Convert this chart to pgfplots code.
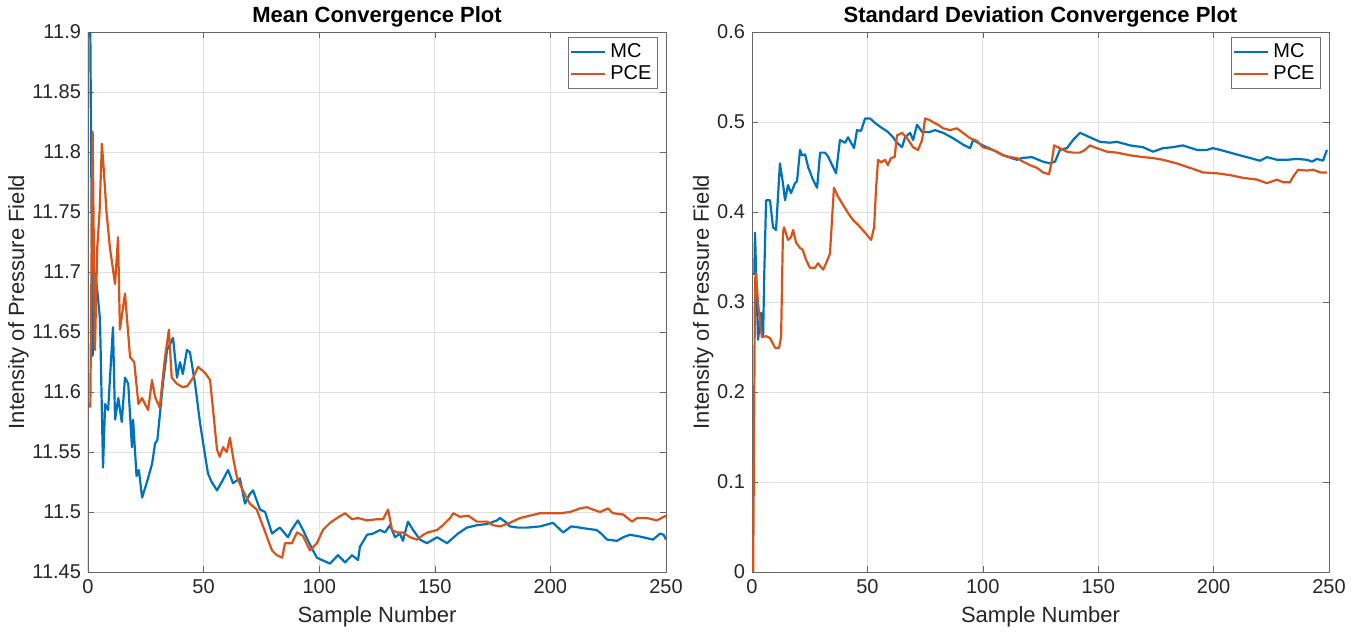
\documentclass[border=0pt]{standalone}
\usepackage{fontspec}
\setmainfont{Liberation Sans}
\usepackage{pgfplots}
\pgfplotsset{compat=1.18}
\definecolor{mcblue}{RGB}{0,114,189}
\definecolor{pceorange}{RGB}{217,83,25}
\pgfplotsset{
  common/.style={
    width=289pt, height=270pt, scale only axis,
    xmin=0, xmax=250, xtick={0,50,100,150,200,250},
    grid=major, major grid style={black!12, line width=0.5pt},
    axis line style={black!60}, tick style={black!60},
    major tick length=3pt,
    /pgf/number format/assume math mode=true,
    tick label style={font=\fontsize{10}{12}\selectfont, text=black!85},
    label style={font=\fontsize{11}{13}\selectfont, text=black!85},
    title style={font=\bfseries\fontsize{11}{13}\selectfont, yshift=-7pt},
    xlabel={Sample Number},
    ylabel={Intensity of Pressure Field},
    ylabel shift=-5pt,
    legend style={at={(rel axis cs:0.986,0.99)}, anchor=north east, draw=black!55,
      font=\fontsize{10}{11}\selectfont, inner sep=1pt, row sep=-1.5pt, cells={anchor=west}},
    legend image code/.code={\draw[#1] (0pt,0pt) -- (17pt,0pt);},
    every axis plot/.append style={line width=1.1pt, line join=round},
  }
}
\begin{document}
\begin{tikzpicture}
\useasboundingbox (-44pt,-30.5pt) rectangle (637.5pt,286pt);
\begin{axis}[common, at={(0,0)}, anchor=south west,
  title={Mean Convergence Plot},
  ymin=11.45, ymax=11.9,
  ytick={11.45,11.5,11.55,11.6,11.65,11.7,11.75,11.8,11.85,11.9},
  yticklabels={11.45,11.5,11.55,11.6,11.65,11.7,11.75,11.8,11.85,11.9}]
\addplot[mcblue] coordinates {
(1,11.90) (2,11.63) (2.8,11.70) (4,11.685) (5.2,11.66) (6.5,11.537) (7.4,11.59) (8.7,11.585)
(10.8,11.654) (11.7,11.577) (13.1,11.595) (14.6,11.575) (16,11.612) (17.4,11.607) (19,11.554)
(19.5,11.577) (21,11.53) (22,11.535) (23.4,11.512) (25.5,11.525) (27.7,11.54) (29,11.557)
(30,11.56) (32.4,11.607) (34.2,11.635) (36.8,11.645) (38.5,11.612) (39.8,11.625) (41,11.615)
(42.8,11.635) (44.1,11.633) (46.3,11.607) (48.4,11.575) (50,11.555) (51.9,11.532) (53.5,11.525)
(55.8,11.518) (58.4,11.527) (60.6,11.535) (62.7,11.524) (65.7,11.528) (67.9,11.507) (70,11.515)
(71.4,11.518) (74.4,11.502) (76.6,11.50) (79.6,11.482) (81.5,11.485) (83,11.487) (86.5,11.479)
(88,11.485) (90.8,11.493) (93,11.485) (94.7,11.478) (97.3,11.468) (99,11.462) (101.2,11.46)
(104.7,11.457) (108.1,11.464) (111.2,11.458) (114.2,11.464) (116.8,11.46) (117.6,11.471)
(120.7,11.481) (123.3,11.482) (126.3,11.485) (128.5,11.483) (130.6,11.489) (132.8,11.479)
(134.9,11.482) (136.2,11.476) (138.4,11.492) (140.6,11.485) (143.6,11.477) (146.6,11.474)
(151,11.479) (155.3,11.474) (160,11.482) (163.9,11.487) (168.2,11.489) (172.6,11.49)
(176.9,11.493) (178.2,11.495) (180.4,11.492) (182.5,11.488) (186,11.487) (189.9,11.487)
(195.5,11.488) (201.1,11.491) (205.5,11.483) (209,11.488) (212.8,11.487) (216,11.486)
(220,11.485) (222,11.482) (224.5,11.477) (228.8,11.476) (231.5,11.479) (234.4,11.481)
(237.5,11.48) (240,11.479) (244.4,11.477) (247.4,11.482) (249,11.481) (250,11.477)
};
\addlegendentry{MC}
\addplot[pceorange] coordinates {
(1,11.587) (2,11.817) (3,11.635) (4,11.72) (5,11.75) (6,11.807) (7,11.78) (8,11.75)
(9.5,11.72) (11.7,11.69) (13,11.729) (13.8,11.652) (16,11.682) (18.2,11.629) (20,11.625)
(21.8,11.59) (23.4,11.595) (24.7,11.59) (26,11.585) (27.7,11.61) (29,11.596) (31,11.587)
(33.3,11.629) (35,11.652) (36.2,11.612) (38.4,11.607) (41,11.604) (43,11.605) (45.5,11.612)
(47.6,11.621) (50.6,11.616) (52.8,11.61) (54,11.587) (55.8,11.552) (57,11.546) (58.4,11.554)
(60,11.55) (61.4,11.562) (62.7,11.546) (64.4,11.529) (67,11.518) (70,11.507) (73,11.502)
(75.7,11.488) (79.6,11.468) (81.7,11.464) (84,11.462) (85.2,11.474) (88.2,11.474) (90.4,11.483)
(93,11.48) (96,11.468) (99,11.474) (101.6,11.485) (104.7,11.491) (107.7,11.495) (111.2,11.499)
(114.2,11.494) (116.8,11.495) (120.7,11.493) (125,11.494) (127.6,11.494) (129.8,11.502)
(131.5,11.485) (133.6,11.483) (136.2,11.483) (139.3,11.479) (142.3,11.477) (145,11.481)
(147,11.483) (151,11.485) (153.5,11.489) (156.6,11.495) (158,11.499) (161,11.496)
(164.4,11.497) (168.2,11.492) (172.6,11.492) (175.2,11.489) (178.2,11.488) (182.5,11.491)
(186.9,11.495) (191.2,11.497) (195.5,11.499) (199.8,11.499) (204.2,11.499) (208.5,11.5)
(212.8,11.503) (215.8,11.504) (218.4,11.502) (221.5,11.5) (224.9,11.503) (227,11.499)
(231.4,11.498) (235.3,11.492) (237.5,11.495) (241.8,11.495) (246.1,11.493) (250,11.497)
};
\addlegendentry{PCE}
\end{axis}
\begin{axis}[common, at={(332pt,0)}, anchor=south west, width=288.5pt,
  title={Standard Deviation Convergence Plot},
  ymin=0, ymax=0.6,
  ytick={0,0.1,0.2,0.3,0.4,0.5,0.6},
  yticklabels={0,0.1,0.2,0.3,0.4,0.5,0.6}]
\addplot[mcblue] coordinates {
(1,0.33) (1.3,0.377) (2.6,0.258) (3.9,0.288) (4.8,0.261) (5.3,0.33) (6.1,0.413) (7.8,0.413)
(9.1,0.383) (10.4,0.38) (12.1,0.454) (13.4,0.432) (14.3,0.413) (15.6,0.43) (16.9,0.421)
(18.6,0.432) (19.5,0.434) (20.8,0.469) (21.7,0.463) (23,0.464) (24.3,0.45) (26.4,0.436)
(28.2,0.427) (29.5,0.466) (31.6,0.466) (32.9,0.462) (35.1,0.45) (36.4,0.443) (38.1,0.48)
(40.3,0.477) (41.6,0.483) (44.2,0.471) (45.5,0.491) (47.2,0.49) (49,0.504) (51.1,0.504)
(53.3,0.499) (55.9,0.494) (58.9,0.489) (61.1,0.483) (62.8,0.477) (65,0.472) (66.3,0.483)
(68.5,0.488) (69.8,0.48) (71.5,0.497) (73.7,0.489) (77.1,0.489) (79.3,0.491) (82.8,0.488)
(87.1,0.482) (91.4,0.475) (94.5,0.471) (95.8,0.48) (100,0.474) (104.4,0.469) (108.8,0.463)
(114.8,0.458) (117,0.46) (121.3,0.461) (126,0.456) (129.1,0.454) (131.3,0.456) (133.4,0.469)
(136.5,0.471) (139.1,0.48) (142.1,0.488) (146.4,0.483) (150.8,0.478) (155.1,0.477)
(158.1,0.478) (163.8,0.474) (169.4,0.472) (173.7,0.467) (178.1,0.471) (182.4,0.472)
(186.7,0.474) (192.8,0.469) (197.1,0.469) (199.7,0.471) (202.8,0.469) (207.1,0.466)
(211.4,0.463) (215.8,0.46) (220.1,0.457) (223.1,0.461) (227.5,0.458) (231.8,0.458)
(236.1,0.459) (240.5,0.458) (242.6,0.456) (244.8,0.459) (247.4,0.457) (249.1,0.469)
};
\addlegendentry{MC}
\addplot[pceorange] coordinates {
(0.5,0) (1.3,0.324) (1.7,0.332) (2.6,0.299) (3.5,0.277) (4.3,0.261) (6.1,0.262) (7.8,0.26)
(10,0.249) (11.7,0.249) (12.6,0.261) (13.4,0.377) (13.9,0.383) (15.6,0.369) (16.9,0.372)
(17.8,0.38) (19.1,0.366) (20.8,0.36) (22,0.358) (23.4,0.347) (25.1,0.338) (27.3,0.338)
(28.6,0.343) (30.8,0.336) (32.1,0.343) (33.8,0.354) (34.2,0.372) (35.5,0.427) (37.3,0.417)
(39.4,0.408) (41.6,0.399) (43.8,0.391) (45.9,0.386) (49,0.377) (51.6,0.369) (52.9,0.383)
(53.7,0.424) (54.6,0.458) (56,0.455) (57.6,0.458) (58.9,0.452) (60.2,0.46) (61.8,0.461)
(62.8,0.485) (65,0.488) (67.2,0.482) (69.8,0.472) (71.9,0.469) (73.7,0.48) (75,0.504)
(77.1,0.502) (79,0.499) (80.6,0.497) (82.8,0.493) (85.8,0.491) (88.8,0.493) (91.4,0.488)
(94.5,0.482) (97.5,0.479) (100,0.472) (103.1,0.47) (106.2,0.467) (108.8,0.463) (111.8,0.461)
(114.8,0.46) (117.4,0.456) (120.5,0.452) (123.5,0.449) (126.1,0.444) (128.7,0.442) (130,0.458)
(130.9,0.474) (133.4,0.471) (136.5,0.467) (139.1,0.466) (142.1,0.466) (144.3,0.469)
(146.4,0.474) (149.4,0.471) (153.8,0.467) (158.1,0.466) (163.8,0.463) (169.4,0.461)
(173.7,0.46) (178.1,0.458) (184.1,0.454) (189.8,0.449) (195.4,0.444) (201.5,0.443)
(207.1,0.441) (212.7,0.438) (218.8,0.436) (223.1,0.432) (227.5,0.436) (230.1,0.433)
(233.1,0.433) (234.4,0.439) (236.6,0.447) (240.5,0.446) (243.1,0.447) (246.1,0.444) (249.1,0.444)
};
\addlegendentry{PCE}
\end{axis}
\end{tikzpicture}
\end{document}
